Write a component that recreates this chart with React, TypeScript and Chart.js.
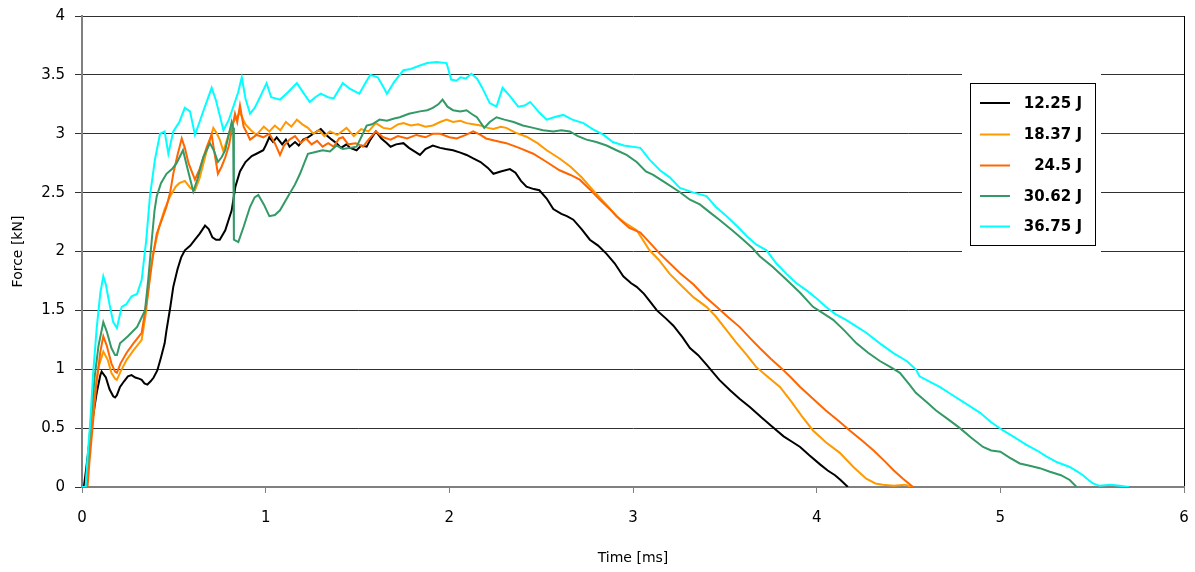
import React, { useEffect, useRef } from "react";
import { Chart, registerables } from "chart.js";

Chart.register(...registerables);

// ---- data (time [ms], force [kN]) ----
const SERIES_LABELS = ["12.25 J", "18.37 J", "24.5 J", "30.62 J", "36.75 J"];
const SERIES_COLORS = ["#000000", "#FF9900", "#FF6600", "#339966", "#00FFFF"];

const TIME_TICKS = [0, 1, 2, 3, 4, 5, 6];
const FORCE_TICKS = [0, 0.5, 1, 1.5, 2, 2.5, 3, 3.5, 4];

const s1225: [number, number][] = [
  [0, 0], [0.01, 0], [0.02, 0.12], [0.04, 0.38], [0.06, 0.6], [0.08, 0.8], [0.1, 0.95], [0.107, 0.98], [0.13, 0.93],
  [0.15, 0.83], [0.17, 0.77], [0.18, 0.76], [0.19, 0.78], [0.207, 0.85], [0.23, 0.9], [0.25, 0.94], [0.27, 0.95],
  [0.29, 0.93], [0.31, 0.92], [0.325, 0.91], [0.34, 0.88], [0.356, 0.87], [0.375, 0.9], [0.39, 0.93], [0.41, 0.99],
  [0.43, 1.1], [0.45, 1.22], [0.46, 1.33], [0.48, 1.52], [0.497, 1.7], [0.52, 1.85], [0.54, 1.95], [0.56, 2.01],
  [0.59, 2.05], [0.615, 2.1], [0.64, 2.15], [0.67, 2.22], [0.69, 2.19], [0.71, 2.12], [0.73, 2.1], [0.75, 2.1],
  [0.78, 2.18], [0.815, 2.35], [0.835, 2.55], [0.86, 2.68], [0.89, 2.76], [0.924, 2.81], [0.95, 2.83], [0.987, 2.86],
  [1.0, 2.9], [1.02, 2.97], [1.04, 2.93], [1.06, 2.97], [1.09, 2.91], [1.11, 2.95], [1.13, 2.89], [1.16, 2.93],
  [1.18, 2.9], [1.205, 2.95], [1.23, 2.97], [1.26, 3.0], [1.28, 3.02], [1.3, 3.04], [1.33, 2.99], [1.36, 2.95],
  [1.386, 2.92], [1.41, 2.88], [1.44, 2.91], [1.46, 2.88], [1.495, 2.86], [1.52, 2.9], [1.55, 2.89], [1.57, 2.95],
  [1.6, 3.02], [1.63, 2.96], [1.66, 2.92], [1.68, 2.89], [1.71, 2.91], [1.75, 2.92], [1.78, 2.88], [1.81, 2.85],
  [1.84, 2.82], [1.87, 2.87], [1.91, 2.9], [1.95, 2.88], [1.98, 2.87], [2.02, 2.86], [2.06, 2.84], [2.094, 2.82],
  [2.13, 2.79], [2.17, 2.76], [2.21, 2.71], [2.24, 2.66], [2.28, 2.68], [2.33, 2.7], [2.36, 2.67], [2.39, 2.6],
  [2.42, 2.55], [2.46, 2.53], [2.49, 2.52], [2.53, 2.45], [2.566, 2.36], [2.61, 2.32], [2.64, 2.3], [2.675, 2.27],
  [2.72, 2.19], [2.765, 2.1], [2.81, 2.05], [2.856, 1.98], [2.9, 1.9], [2.947, 1.79], [2.99, 1.73], [3.02, 1.7],
  [3.06, 1.64], [3.09, 1.58], [3.13, 1.5], [3.18, 1.43], [3.22, 1.37], [3.27, 1.27], [3.31, 1.18], [3.355, 1.12],
  [3.4, 1.04], [3.47, 0.91], [3.53, 0.82], [3.58, 0.75], [3.636, 0.68], [3.7, 0.59], [3.76, 0.51], [3.82, 0.43],
  [3.87, 0.38], [3.91, 0.34], [3.96, 0.27], [4.02, 0.19], [4.06, 0.14], [4.1, 0.1], [4.13, 0.06], [4.17, 0.0],
];

const s1837: [number, number][] = [
  [0, 0], [0.02, 0], [0.03, 0.15], [0.05, 0.5], [0.07, 0.8], [0.09, 1.02], [0.116, 1.15], [0.14, 1.08], [0.16, 0.97],
  [0.18, 0.92], [0.19, 0.91], [0.21, 0.98], [0.243, 1.08], [0.28, 1.16], [0.325, 1.25], [0.35, 1.5], [0.37, 1.82],
  [0.39, 2.0], [0.42, 2.21], [0.45, 2.36], [0.48, 2.47], [0.51, 2.55], [0.53, 2.58], [0.56, 2.6], [0.59, 2.54],
  [0.615, 2.52], [0.64, 2.62], [0.68, 2.86], [0.715, 3.05], [0.735, 3.0], [0.75, 2.95], [0.77, 2.85], [0.79, 2.95],
  [0.82, 3.09], [0.86, 3.18], [0.89, 3.08], [0.92, 3.03], [0.95, 2.99], [0.99, 3.06], [1.02, 3.02], [1.05, 3.07],
  [1.08, 3.03], [1.11, 3.1], [1.14, 3.06], [1.17, 3.12], [1.2, 3.08], [1.23, 3.05], [1.26, 3.0], [1.29, 3.03],
  [1.32, 2.98], [1.35, 3.02], [1.39, 2.99], [1.44, 3.05], [1.48, 2.98], [1.52, 3.04], [1.56, 3.02], [1.6, 3.09],
  [1.64, 3.05], [1.68, 3.04], [1.72, 3.08], [1.75, 3.09], [1.79, 3.07], [1.83, 3.08], [1.87, 3.06], [1.91, 3.07],
  [1.95, 3.1], [1.985, 3.12], [2.02, 3.1], [2.06, 3.11], [2.094, 3.09], [2.13, 3.08], [2.17, 3.07], [2.21, 3.05],
  [2.24, 3.04], [2.28, 3.06], [2.31, 3.05], [2.36, 3.01], [2.42, 2.975], [2.48, 2.92], [2.53, 2.86], [2.6, 2.79],
  [2.66, 2.72], [2.72, 2.63], [2.8, 2.49], [2.86, 2.39], [2.91, 2.3], [2.96, 2.24], [3.02, 2.18], [3.09, 2.01],
  [3.14, 1.93], [3.2, 1.81], [3.27, 1.7], [3.33, 1.61], [3.4, 1.53], [3.45, 1.45], [3.51, 1.33], [3.56, 1.23],
  [3.62, 1.12], [3.67, 1.02], [3.73, 0.94], [3.8, 0.85], [3.86, 0.73], [3.92, 0.6], [3.98, 0.48], [4.05, 0.38],
  [4.126, 0.29], [4.2, 0.17], [4.27, 0.07], [4.32, 0.03], [4.36, 0.02], [4.42, 0.01], [4.48, 0.02], [4.52, 0.0],
];

const s245: [number, number][] = [
  [0, 0], [0.03, 0], [0.04, 0.2], [0.06, 0.55], [0.08, 0.9], [0.1, 1.15], [0.116, 1.28], [0.135, 1.2], [0.16, 1.05],
  [0.18, 0.98], [0.19, 0.97], [0.21, 1.05], [0.243, 1.14], [0.28, 1.22], [0.325, 1.31], [0.36, 1.65], [0.385, 1.95],
  [0.407, 2.15], [0.43, 2.25], [0.46, 2.38], [0.48, 2.5], [0.497, 2.66], [0.52, 2.82], [0.543, 2.96], [0.56, 2.88],
  [0.58, 2.75], [0.615, 2.61], [0.64, 2.7], [0.68, 2.89], [0.706, 2.99], [0.72, 2.85], [0.74, 2.66], [0.76, 2.72],
  [0.78, 2.8], [0.8, 2.9], [0.833, 3.17], [0.845, 3.1], [0.86, 3.24], [0.88, 3.06], [0.9, 3.0], [0.915, 2.95],
  [0.95, 2.99], [0.987, 2.97], [1.02, 3.0], [1.05, 2.92], [1.078, 2.82], [1.1, 2.9], [1.13, 2.95], [1.16, 2.98],
  [1.19, 2.92], [1.22, 2.96], [1.25, 2.91], [1.28, 2.94], [1.31, 2.89], [1.34, 2.92], [1.37, 2.89], [1.4, 2.96],
  [1.42, 2.97], [1.45, 2.91], [1.49, 2.92], [1.53, 2.89], [1.56, 2.95], [1.6, 3.02], [1.64, 2.97], [1.68, 2.95],
  [1.72, 2.98], [1.77, 2.96], [1.82, 2.99], [1.87, 2.97], [1.91, 3.0], [1.95, 3.0], [2.0, 2.97], [2.04, 2.96],
  [2.09, 2.99], [2.13, 3.02], [2.17, 2.99], [2.2, 2.96], [2.25, 2.94], [2.31, 2.92], [2.38, 2.88], [2.457, 2.83],
  [2.53, 2.76], [2.6, 2.69], [2.66, 2.65], [2.71, 2.61], [2.77, 2.52], [2.82, 2.44], [2.88, 2.35], [2.93, 2.27],
  [2.98, 2.2], [3.04, 2.16], [3.1, 2.06], [3.147, 1.98], [3.2, 1.9], [3.26, 1.81], [3.33, 1.72], [3.39, 1.62],
  [3.455, 1.53], [3.52, 1.44], [3.58, 1.36], [3.64, 1.26], [3.69, 1.18], [3.75, 1.09], [3.8, 1.02], [3.86, 0.93],
  [3.91, 0.85], [3.98, 0.75], [4.05, 0.65], [4.12, 0.56], [4.18, 0.48], [4.25, 0.39], [4.31, 0.31], [4.37, 0.22],
  [4.42, 0.14], [4.47, 0.07], [4.525, 0.0],
];

const s3062: [number, number][] = [
  [0, 0], [0.02, 0], [0.03, 0.2], [0.05, 0.6], [0.07, 0.95], [0.09, 1.2], [0.116, 1.4], [0.135, 1.32], [0.16, 1.18],
  [0.18, 1.12], [0.19, 1.12], [0.207, 1.22], [0.25, 1.28], [0.3, 1.36], [0.343, 1.5], [0.36, 1.75], [0.38, 2.1],
  [0.395, 2.35], [0.407, 2.47], [0.43, 2.58], [0.46, 2.66], [0.49, 2.7], [0.515, 2.75], [0.55, 2.86], [0.575, 2.7],
  [0.606, 2.51], [0.63, 2.62], [0.66, 2.8], [0.697, 2.92], [0.72, 2.85], [0.74, 2.76], [0.76, 2.8], [0.78, 2.86],
  [0.8, 3.0], [0.815, 3.1], [0.823, 3.05], [0.827, 2.1], [0.851, 2.08], [0.88, 2.21], [0.915, 2.38], [0.94, 2.46],
  [0.96, 2.48], [0.99, 2.4], [1.02, 2.3], [1.05, 2.31], [1.078, 2.35], [1.13, 2.49], [1.16, 2.57], [1.187, 2.66],
  [1.21, 2.75], [1.23, 2.83], [1.26, 2.84], [1.31, 2.86], [1.35, 2.85], [1.386, 2.9], [1.42, 2.87], [1.46, 2.88],
  [1.495, 2.89], [1.52, 2.97], [1.55, 3.07], [1.58, 3.08], [1.62, 3.12], [1.66, 3.11], [1.7, 3.13], [1.73, 3.14],
  [1.78, 3.17], [1.84, 3.19], [1.88, 3.2], [1.91, 3.22], [1.94, 3.25], [1.963, 3.29], [1.99, 3.23], [2.02, 3.2],
  [2.06, 3.19], [2.094, 3.2], [2.12, 3.17], [2.15, 3.14], [2.19, 3.05], [2.22, 3.1], [2.257, 3.14], [2.3, 3.12],
  [2.35, 3.1], [2.4, 3.07], [2.457, 3.05], [2.51, 3.03], [2.566, 3.02], [2.61, 3.03], [2.656, 3.02], [2.7, 2.98],
  [2.747, 2.95], [2.8, 2.93], [2.856, 2.9], [2.91, 2.86], [2.965, 2.82], [3.02, 2.76], [3.07, 2.68], [3.11, 2.65],
  [3.18, 2.58], [3.25, 2.51], [3.31, 2.44], [3.364, 2.4], [3.42, 2.33], [3.47, 2.27], [3.54, 2.18], [3.6, 2.1],
  [3.65, 2.03], [3.69, 1.96], [3.76, 1.87], [3.836, 1.76], [3.91, 1.65], [3.98, 1.53], [4.04, 1.47], [4.09, 1.42],
  [4.15, 1.33], [4.217, 1.22], [4.28, 1.14], [4.344, 1.07], [4.4, 1.02], [4.453, 0.97], [4.5, 0.88], [4.54, 0.8],
  [4.6, 0.72], [4.65, 0.65], [4.72, 0.57], [4.78, 0.5], [4.84, 0.42], [4.906, 0.34], [4.95, 0.31], [5.0, 0.3],
  [5.05, 0.25], [5.106, 0.2], [5.16, 0.18], [5.215, 0.16], [5.27, 0.13], [5.33, 0.1], [5.378, 0.06], [5.415, 0.0],
];

const s3675: [number, number][] = [
  [0, 0], [0.02, 0], [0.03, 0.25], [0.045, 0.55], [0.06, 0.95], [0.08, 1.35], [0.1, 1.65], [0.116, 1.79], [0.13, 1.72],
  [0.15, 1.55], [0.17, 1.4], [0.19, 1.35], [0.216, 1.53], [0.24, 1.55], [0.27, 1.62], [0.3, 1.64], [0.325, 1.76],
  [0.35, 2.1], [0.37, 2.47], [0.397, 2.78], [0.425, 3.0], [0.45, 3.02], [0.47, 2.83], [0.497, 3.02], [0.53, 3.1],
  [0.56, 3.22], [0.588, 3.19], [0.615, 2.99], [0.64, 3.1], [0.66, 3.19], [0.706, 3.39], [0.73, 3.28], [0.77, 3.03],
  [0.8, 3.12], [0.824, 3.23], [0.85, 3.35], [0.87, 3.48], [0.89, 3.3], [0.915, 3.17], [0.94, 3.22], [0.969, 3.31],
  [1.005, 3.43], [1.03, 3.31], [1.078, 3.29], [1.12, 3.35], [1.17, 3.43], [1.2, 3.36], [1.24, 3.27], [1.27, 3.31],
  [1.3, 3.34], [1.34, 3.31], [1.37, 3.3], [1.42, 3.43], [1.46, 3.38], [1.51, 3.34], [1.55, 3.45], [1.57, 3.5],
  [1.61, 3.48], [1.64, 3.4], [1.66, 3.34], [1.7, 3.44], [1.75, 3.54], [1.79, 3.55], [1.84, 3.58], [1.88, 3.6],
  [1.93, 3.61], [1.985, 3.6], [2.01, 3.46], [2.04, 3.45], [2.06, 3.48], [2.09, 3.47], [2.12, 3.51], [2.15, 3.47],
  [2.176, 3.4], [2.22, 3.26], [2.257, 3.23], [2.29, 3.39], [2.33, 3.32], [2.375, 3.23], [2.41, 3.24], [2.44, 3.27],
  [2.49, 3.18], [2.53, 3.12], [2.57, 3.14], [2.62, 3.16], [2.67, 3.12], [2.73, 3.09], [2.78, 3.04], [2.84, 2.99],
  [2.89, 2.93], [2.95, 2.9], [3.04, 2.88], [3.09, 2.78], [3.147, 2.69], [3.2, 2.63], [3.255, 2.54], [3.33, 2.5],
  [3.4, 2.47], [3.45, 2.38], [3.51, 2.3], [3.57, 2.21], [3.62, 2.13], [3.67, 2.06], [3.727, 2.01], [3.78, 1.9],
  [3.836, 1.81], [3.89, 1.73], [3.945, 1.67], [4.0, 1.6], [4.05, 1.53], [4.1, 1.47], [4.16, 1.42], [4.22, 1.36],
  [4.27, 1.31], [4.344, 1.22], [4.42, 1.135], [4.49, 1.07], [4.54, 1.0], [4.56, 0.94], [4.62, 0.89], [4.67, 0.85],
  [4.73, 0.79], [4.78, 0.74], [4.84, 0.68], [4.89, 0.63], [4.95, 0.55], [5.015, 0.48], [5.08, 0.42], [5.14, 0.36],
  [5.2, 0.31], [5.25, 0.26], [5.31, 0.21], [5.378, 0.17], [5.42, 0.13], [5.45, 0.1], [5.48, 0.06], [5.505, 0.03],
  [5.54, 0.01], [5.6, 0.02], [5.65, 0.01], [5.7, 0.0],
];

const SERIES_DATA = [s1225, s1837, s245, s3062, s3675];

const FONT = "'DejaVu Sans', Verdana, sans-serif";

const boxLegend = {
  id: "boxLegend",
  afterDraw(chart: any) {
    const ctx = chart.ctx;
    ctx.save();
    ctx.fillStyle = "#ffffff";
    ctx.fillRect(962, 62, 139, 196);
    ctx.strokeStyle = "#000000";
    ctx.lineWidth = 1;
    ctx.strokeRect(970.5, 83.5, 125, 162);
    const rowY = [103, 134.5, 165.5, 196, 226.5];
    chart.data.datasets.forEach((ds: any, i: number) => {
      const y = rowY[i];
      ctx.strokeStyle = ds.borderColor;
      ctx.lineWidth = 2;
      ctx.beginPath();
      ctx.moveTo(980, y);
      ctx.lineTo(1010, y);
      ctx.stroke();
      ctx.fillStyle = "#000000";
      ctx.font = `bold 15px ${FONT}`;
      ctx.textAlign = "right";
      ctx.textBaseline = "middle";
      ctx.fillText(ds.label, 1082, y + 1);
    });
    ctx.restore();
  },
};

export default function App() {
  const canvasRef = useRef<HTMLCanvasElement | null>(null);

  useEffect(() => {
    const canvas = canvasRef.current;
    if (!canvas) return;
    const datasets = SERIES_LABELS.map((label, i) => ({
      label,
      data: SERIES_DATA[i].map(([x, y]) => ({ x, y })),
      borderColor: SERIES_COLORS[i],
      backgroundColor: SERIES_COLORS[i],
      borderWidth: 2,
      pointRadius: 0,
      tension: 0,
      fill: false,
      order: SERIES_LABELS.length - 1 - i,
    }));

    const chart = new Chart(canvas, {
      type: "line",
      data: { datasets },
      plugins: [boxLegend],
      options: {
        animation: false,
        responsive: false,
        devicePixelRatio: 1,
        layout: { padding: { left: 0, top: 16, right: 11, bottom: 0 } },
        plugins: {
          legend: { display: false },
          tooltip: { enabled: false },
        },
        scales: {
          x: {
            type: "linear",
            min: 0,
            max: 6,
            afterBuildTicks: (scale: any) => {
              scale.ticks = TIME_TICKS.map((v) => ({ value: v }));
            },
            afterFit: (scale: any) => {
              scale.height = 85;
              scale.paddingLeft = 0;
              scale.paddingRight = 0;
            },
            ticks: {
              color: "#000000",
              font: { family: FONT, size: 15 },
              padding: 16,
              maxRotation: 0,
              callback: (v: any) => String(v),
            },
            grid: {
              color: (c: any) => (c.tick && c.tick.value === 6 ? "#000000" : "rgba(0,0,0,0)"),
              tickColor: "#808080",
              tickLength: 6,
              lineWidth: 1,
            },
            border: { color: "#808080", width: 2 },
            title: {
              display: true,
              text: "Time [ms]",
              color: "#000000",
              font: { family: FONT, size: 14 },
              padding: { top: 0, bottom: 5 },
            },
          },
          y: {
            type: "linear",
            min: 0,
            max: 4,
            afterBuildTicks: (scale: any) => {
              scale.ticks = FORCE_TICKS.map((v) => ({ value: v }));
            },
            afterFit: (scale: any) => {
              scale.width = 82;
              scale.paddingTop = 0;
              scale.paddingBottom = 0;
            },
            ticks: {
              color: "#000000",
              font: { family: FONT, size: 15 },
              padding: 10,
              callback: (v: any) => String(v),
            },
            grid: {
              color: "#303030",
              tickColor: "#303030",
              tickLength: 7,
              lineWidth: 1,
            },
            border: { color: "#808080", width: 2 },
            title: {
              display: true,
              text: "Force [kN]",
              color: "#000000",
              font: { family: FONT, size: 14 },
              padding: { top: 10, bottom: 0 },
            },
          },
        },
      },
    });

    return () => {
      chart.destroy();
    };
  }, []);

  return (
    <div style={{ position: "absolute", left: 0, top: 0, width: 1195, height: 572, background: "#ffffff" }}>
      <canvas ref={canvasRef} width={1195} height={572} />
    </div>
  );
}
